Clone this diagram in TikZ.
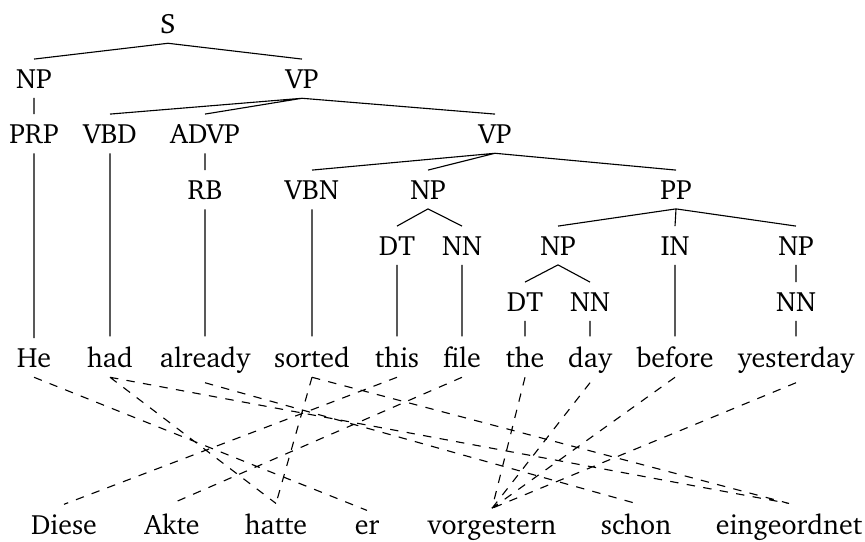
\documentclass[tikz,border=0pt]{standalone}
\usepackage[T1]{fontenc}
\usepackage{charter}
\usepackage{tikz}

\begin{document}
\begin{tikzpicture}[x=0.358pt, y=0.358pt,
        cat/.style={anchor=base},
        word/.style={anchor=base},
        link/.style={dashed}]
        \useasboundingbox (0,0) rectangle (865,-541);

        % syntax tree
        \node[cat] (s) at (168, -33) {S};
        \node[cat] (np) at (34, -88) {NP};
        \node[cat] (vp) at (302, -88) {VP};
        \node[cat] (prp) at (34, -143) {PRP};
        \node[cat] (vbd) at (110, -143) {VBD};
        \node[cat] (advp) at (205, -143) {ADVP};
        \node[cat] (vpb) at (495, -143) {VP};
        \node[cat] (rb) at (205, -199) {RB};
        \node[cat] (vbn) at (312, -199) {VBN};
        \node[cat] (npb) at (428, -199) {NP};
        \node[cat] (pp) at (676, -199) {PP};
        \node[cat] (dt) at (397, -255) {DT};
        \node[cat] (nn) at (462, -255) {NN};
        \node[cat] (npc) at (558, -255) {NP};
        \node[cat] (in) at (675, -255) {IN};
        \node[cat] (npd) at (796, -255) {NP};
        \node[cat] (dtb) at (525, -311) {DT};
        \node[cat] (nnb) at (590, -311) {NN};
        \node[cat] (nnc) at (796, -311) {NN};

        % English words
        \node[word] (he) at (34, -367) {He};
        \node[word] (had) at (110, -367) {had};
        \node[word] (already) at (205, -367) {already};
        \node[word] (sorted) at (312, -367) {sorted};
        \node[word] (this) at (397, -367) {this};
        \node[word] (file) at (462, -367) {file};
        \node[word] (the) at (525, -367) {the};
        \node[word] (day) at (590, -367) {day};
        \node[word] (before) at (675, -367) {before};
        \node[word] (yesterday) at (796, -367) {yesterday};

        % German words
        \node[word] (diese) at (64, -534) {Diese};
        \node[word] (akte) at (172, -534) {Akte};
        \node[word] (hatte) at (276, -534) {hatte};
        \node[word] (er) at (367, -534) {er};
        \node[word] (vorgestern) at (492, -534) {vorgestern};
        \node[word] (schon) at (636, -534) {schon};
        \node[word] (eingeordnet) at (789, -534) {eingeordnet};

        \draw (s.south) to (np.north)
            (s.south) to (vp.north)
            (np.south) to (prp.north)
            (vp.south) to (vbd.north)
            (vp.south) to (advp.north)
            (vp.south) to (vpb.north)
            (advp.south) to (rb.north)
            (vpb.south) to (vbn.north)
            (vpb.south) to (npb.north)
            (vpb.south) to (pp.north)
            (npb.south) to (dt.north)
            (npb.south) to (nn.north)
            (pp.south) to (npc.north)
            (pp.south) to (in.north)
            (pp.south) to (npd.north)
            (npc.south) to (dtb.north)
            (npc.south) to (nnb.north)
            (npd.south) to (nnc.north)
            (prp.south) to (he.north)
            (vbd.south) to (had.north)
            (rb.south) to (already.north)
            (vbn.south) to (sorted.north)
            (dt.south) to (this.north)
            (nn.south) to (file.north)
            (dtb.south) to (the.north)
            (nnb.south) to (day.north)
            (in.south) to (before.north)
            (nnc.south) to (yesterday.north);

        % word alignment
        \draw[link] (he.south) to (er.north)
            (had.south) to (hatte.north)
            (had.south) to (eingeordnet.north)
            (already.south) to (schon.north)
            (sorted.south) to (hatte.north)
            (sorted.south) to (eingeordnet.north)
            (this.south) to (diese.north)
            (file.south) to (akte.north)
            (the.south) to (vorgestern.north)
            (day.south) to (vorgestern.north)
            (before.south) to (vorgestern.north)
            (yesterday.south) to (vorgestern.north);
\end{tikzpicture}
\end{document}
